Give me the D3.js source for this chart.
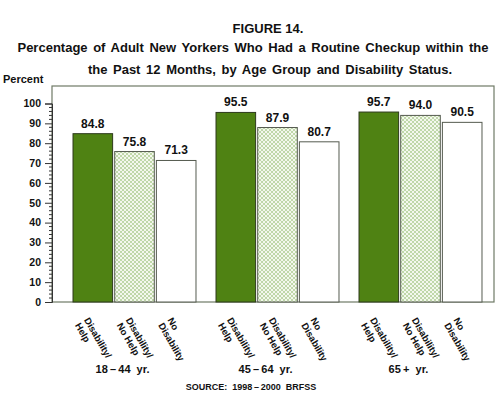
<!DOCTYPE html>
<html>
<head>
<meta charset="utf-8">
<style>
  body { margin: 0; background: #fff; }
  svg { display: block; }
  text { font-family: "Liberation Sans", Arial, Helvetica, sans-serif; font-weight: bold; fill: #111; }
</style>
</head>
<body>
<div id="chart"></div>
<script src="https://d3js.org/d3.v7.min.js"></script>
<script>
var groups = ["18\u2009\u2013\u200944  yr.", "45\u2009\u2013\u200964  yr.", "65\u2009+  yr."];
var series = ["helped", "nohelp", "none"];
var seriesLabels = [["Disability/", "Help"], ["Disability/", "No Help"], ["No", "Disability"]];
var helped = [84.8, 95.5, 95.7];
var nohelp = [75.8, 87.9, 94.0];
var none = [71.3, 80.7, 90.5];
var yTicks = [0, 10, 20, 30, 40, 50, 60, 70, 80, 90, 100];

var values = { helped: helped, nohelp: nohelp, none: none };

var width = 500, height = 399;
var svg = d3.select("#chart").append("svg")
  .attr("width", width)
  .attr("height", height);

// crosshatch for the "no help" bars
var defs = svg.append("defs");
var pat = defs.append("pattern")
  .attr("id", "hatch")
  .attr("patternUnits", "userSpaceOnUse")
  .attr("width", 4).attr("height", 4);
pat.append("rect").attr("width", 4).attr("height", 4).attr("fill", "#f4f8ee");
pat.append("path").attr("d", "M0,0L4,4M4,0L0,4")
  .attr("stroke", "#b9d4a2").attr("stroke-width", 0.9);

var box = { left: 52, right: 494, top: 86, bottom: 302 };

var y = d3.scaleLinear().domain([0, 100]).range([302, 103.5]);

var x0 = d3.scaleBand().domain(groups)
  .range([63, 492]).paddingInner(0.14).paddingOuter(0.07);
var x1 = d3.scaleBand().domain(series)
  .range([0, x0.bandwidth()]).paddingInner(0.05).paddingOuter(0);

// frame
svg.append("rect")
  .attr("x", box.left).attr("y", box.top)
  .attr("width", box.right - box.left).attr("height", box.bottom - box.top)
  .attr("fill", "none").attr("stroke", "#6f7a66").attr("stroke-width", 1.2);

// y axis
var yAxis = d3.axisLeft(y).tickValues(yTicks).tickSize(7).tickPadding(4);
var ga = svg.append("g").attr("transform", "translate(" + box.left + ",0)").call(yAxis);
ga.select(".domain").attr("stroke", "#333");
ga.selectAll(".tick line").attr("stroke", "#333");
ga.selectAll("text").attr("font-size", 10.5).attr("font-family", "Liberation Sans, Arial, sans-serif")
  .attr("font-weight", "bold").attr("fill", "#111");

var minor = d3.range(0, 101, 2).filter(function(v) { return v % 10 != 0; });
svg.append("g").selectAll("line").data(minor).enter().append("line")
  .attr("x1", box.left - 3).attr("x2", box.left)
  .attr("y1", function(d) { return y(d); }).attr("y2", function(d) { return y(d); })
  .attr("stroke", "#333").attr("stroke-width", 1);

svg.append("text").attr("x", 3).attr("y", 83).attr("font-size", 11).text("Percent");

// bars
var fills = { helped: "#4f8213", nohelp: "url(#hatch)", none: "#fff" };
var strokes = { helped: "#2d3a1c", nohelp: "#555b50", none: "#555b50" };

var gg = svg.selectAll(".grp").data(groups).enter().append("g")
  .attr("class", "grp")
  .attr("transform", function(g) { return "translate(" + x0(g) + ",0)"; });

gg.selectAll("rect").data(function(g, i) {
    return series.map(function(s) { return { s: s, v: values[s][i] }; });
  }).enter().append("rect")
  .attr("x", function(d) { return x1(d.s); })
  .attr("width", x1.bandwidth())
  .attr("y", function(d) { return y(d.v); })
  .attr("height", function(d) { return y(0) - y(d.v); })
  .attr("fill", function(d) { return fills[d.s]; })
  .attr("stroke", function(d) { return strokes[d.s]; })
  .attr("stroke-width", 1);

gg.selectAll(".val").data(function(g, i) {
    return series.map(function(s) { return { s: s, v: values[s][i] }; });
  }).enter().append("text")
  .attr("class", "val")
  .attr("x", function(d) { return x1(d.s) + x1.bandwidth() / 2; })
  .attr("y", function(d) { return y(d.v) - 6; })
  .attr("text-anchor", "middle")
  .attr("font-size", 12)
  .text(function(d) { return d.v.toFixed(1); });

// rotated category labels
gg.selectAll(".cat").data(series).enter().append("text")
  .attr("class", "cat")
  .attr("font-size", 9.5)
  .attr("transform", function(s) {
    return "translate(" + (x1(s) + x1.bandwidth() / 2 - 9) + ",320) rotate(60)";
  })
  .each(function(s, i) {
    var t = d3.select(this);
    seriesLabels[i].forEach(function(line, j) {
      t.append("tspan").attr("x", 0).attr("y", j * 10.5).text(line);
    });
  });

gg.append("text")
  .attr("x", x0.bandwidth() / 2 - 12)
  .attr("y", 373)
  .attr("text-anchor", "middle")
  .attr("font-size", 11)
  .style("white-space", "pre")
  .text(function(g) { return g; });

// titles
svg.append("text").attr("x", 268).attr("y", 33).attr("text-anchor", "middle")
  .attr("font-size", 13).text("FIGURE 14.");
svg.append("text").attr("x", 253).attr("y", 52).attr("text-anchor", "middle")
  .attr("font-size", 13).attr("word-spacing", 2)
  .text("Percentage of Adult New Yorkers Who Had a Routine Checkup within the");
svg.append("text").attr("x", 270).attr("y", 74).attr("text-anchor", "middle")
  .attr("font-size", 13).attr("word-spacing", 2)
  .text("the Past 12 Months, by Age Group and Disability Status.");
svg.append("text").attr("x", 251).attr("y", 390).attr("text-anchor", "middle")
  .attr("font-size", 9).style("white-space", "pre")
  .text("SOURCE:  1998\u2009\u2013\u20092000  BRFSS");
</script>
</body>
</html>
